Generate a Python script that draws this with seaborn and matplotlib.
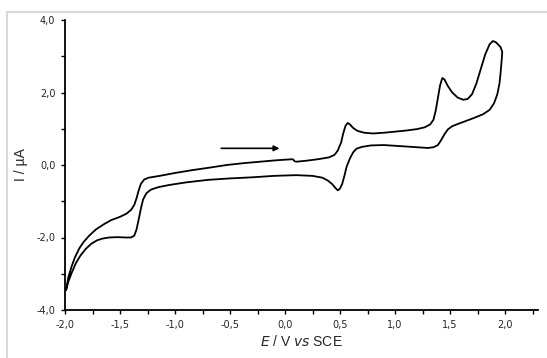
import numpy as np
import pandas as pd
import matplotlib
matplotlib.use("Agg")
import matplotlib.pyplot as plt
import seaborn as sns
from matplotlib.ticker import MultipleLocator, FuncFormatter
from matplotlib.lines import Line2D

# anodic scan from the start potential up to the +2.0 V vertex
fwd_E = [0.10, 0.20, 0.30, 0.40, 0.45, 0.48, 0.51, 0.53, 0.55, 0.57, 0.59, 0.62,
         0.66, 0.72, 0.80, 0.90, 1.00, 1.10, 1.20, 1.27, 1.32, 1.35, 1.37, 1.39,
         1.41, 1.43, 1.45, 1.48, 1.52, 1.57, 1.62, 1.66, 1.70, 1.74, 1.78, 1.82,
         1.86, 1.89, 1.92, 1.96, 1.975]
fwd_I = [0.09, 0.12, 0.16, 0.21, 0.28, 0.40, 0.62, 0.88, 1.08, 1.16, 1.12, 1.02,
         0.94, 0.89, 0.87, 0.89, 0.92, 0.95, 0.99, 1.04, 1.12, 1.25, 1.50, 1.85,
         2.20, 2.40, 2.36, 2.18, 2.00, 1.86, 1.80, 1.82, 1.95, 2.25, 2.65, 3.05,
         3.33, 3.42, 3.38, 3.25, 3.12]

# cathodic scan from +2.0 V down to -2.0 V
rev_E = [1.97, 1.96, 1.95, 1.93, 1.90, 1.86, 1.80, 1.72, 1.64, 1.57, 1.52, 1.48,
         1.45, 1.42, 1.39, 1.35, 1.30, 1.20, 1.05, 0.90, 0.78, 0.70, 0.65, 0.62,
         0.59, 0.56, 0.54, 0.52, 0.50, 0.48, 0.46, 0.43, 0.39, 0.34, 0.25, 0.10,
         -0.10, -0.30, -0.50, -0.70, -0.90, -1.05, -1.15, -1.22, -1.26, -1.29,
         -1.31, -1.33, -1.35, -1.37, -1.40, -1.45, -1.52, -1.60, -1.66, -1.71,
         -1.76, -1.81, -1.86, -1.90, -1.94, -1.97, -1.99]
rev_I = [2.90, 2.55, 2.25, 1.95, 1.70, 1.52, 1.40, 1.30, 1.21, 1.13, 1.07, 0.98,
         0.85, 0.69, 0.55, 0.49, 0.47, 0.49, 0.52, 0.55, 0.54, 0.50, 0.45, 0.35,
         0.18, -0.05, -0.30, -0.52, -0.65, -0.70, -0.64, -0.53, -0.43, -0.35,
         -0.30, -0.28, -0.30, -0.34, -0.37, -0.41, -0.48, -0.55, -0.61, -0.68,
         -0.78, -0.95, -1.20, -1.50, -1.78, -1.95, -2.00, -2.00, -1.99, -2.00,
         -2.03, -2.08, -2.17, -2.31, -2.50, -2.70, -2.98, -3.22, -3.45]

# return scan from -2.0 V back to the start potential
ret_E = [-1.97, -1.94, -1.91, -1.87, -1.83, -1.78, -1.72, -1.65, -1.58, -1.50,
         -1.44, -1.40, -1.37, -1.35, -1.33, -1.31, -1.28, -1.24, -1.14, -1.00,
         -0.84, -0.68, -0.53, -0.38, -0.23, -0.08, 0.07, 0.09]
ret_I = [-3.10, -2.80, -2.55, -2.30, -2.12, -1.95, -1.78, -1.64, -1.52, -1.43,
         -1.34, -1.24, -1.10, -0.92, -0.70, -0.52, -0.40, -0.35, -0.30, -0.22,
         -0.14, -0.07, 0.00, 0.05, 0.09, 0.13, 0.16, 0.10]

arrow_start = (-0.58, 0.46)
arrow_end = (-0.05, 0.46)

df = pd.DataFrame({
    "E": fwd_E + rev_E + ret_E,
    "I": fwd_I + rev_I + ret_I,
})

sns.set_style("white")
plt.rcParams["font.family"] = ["DejaVu Sans"]

fig = plt.figure(figsize=(5.47, 3.58), dpi=100)
ax = fig.add_axes([65 / 547, 1 - 310 / 358, 473 / 547, 290 / 358])

sns.lineplot(data=df, x="E", y="I", sort=False, estimator=None,
             color="black", linewidth=1.3, ax=ax,
             solid_joinstyle="round", solid_capstyle="round")

ax.annotate("", xy=arrow_end, xytext=arrow_start,
            arrowprops=dict(arrowstyle="-|>", color="black", lw=1.2,
                            mutation_scale=8, shrinkA=0, shrinkB=0))

ax.set_xlim(-2.0, 2.3)
ax.set_ylim(-4.0, 4.0)

comma = FuncFormatter(lambda v, p: f"{v:.1f}".replace(".", ","))
ax.xaxis.set_major_locator(MultipleLocator(0.5))
ax.xaxis.set_minor_locator(MultipleLocator(0.25))
ax.yaxis.set_major_locator(MultipleLocator(2.0))
ax.yaxis.set_minor_locator(MultipleLocator(1.0))
ax.xaxis.set_major_formatter(comma)
ax.yaxis.set_major_formatter(comma)

ax.tick_params(axis="both", which="both", direction="out", length=3, width=1,
               color="black", labelsize=7, pad=4, bottom=True, left=True)

for side in ["top", "right"]:
    ax.spines[side].set_visible(False)
for side in ["left", "bottom"]:
    ax.spines[side].set_color("black")
    ax.spines[side].set_linewidth(1.3)

ax.set_xlabel(r"$\it{E}$ / V $\it{vs}$ SCE", fontsize=10,
              family="Liberation Sans", labelpad=3)
ax.set_ylabel("I / µA", fontsize=10, family="Liberation Sans", labelpad=6)

# light gray chart frame (left and top edges)
fig.add_artist(Line2D([7 / 547, 7 / 547], [0, 1 - 12 / 358],
                      transform=fig.transFigure, color="#d9d9d9", lw=1.5))
fig.add_artist(Line2D([7 / 547, 1], [1 - 12 / 358, 1 - 12 / 358],
                      transform=fig.transFigure, color="#d9d9d9", lw=1.5))

fig.savefig("out.png", dpi=100)
